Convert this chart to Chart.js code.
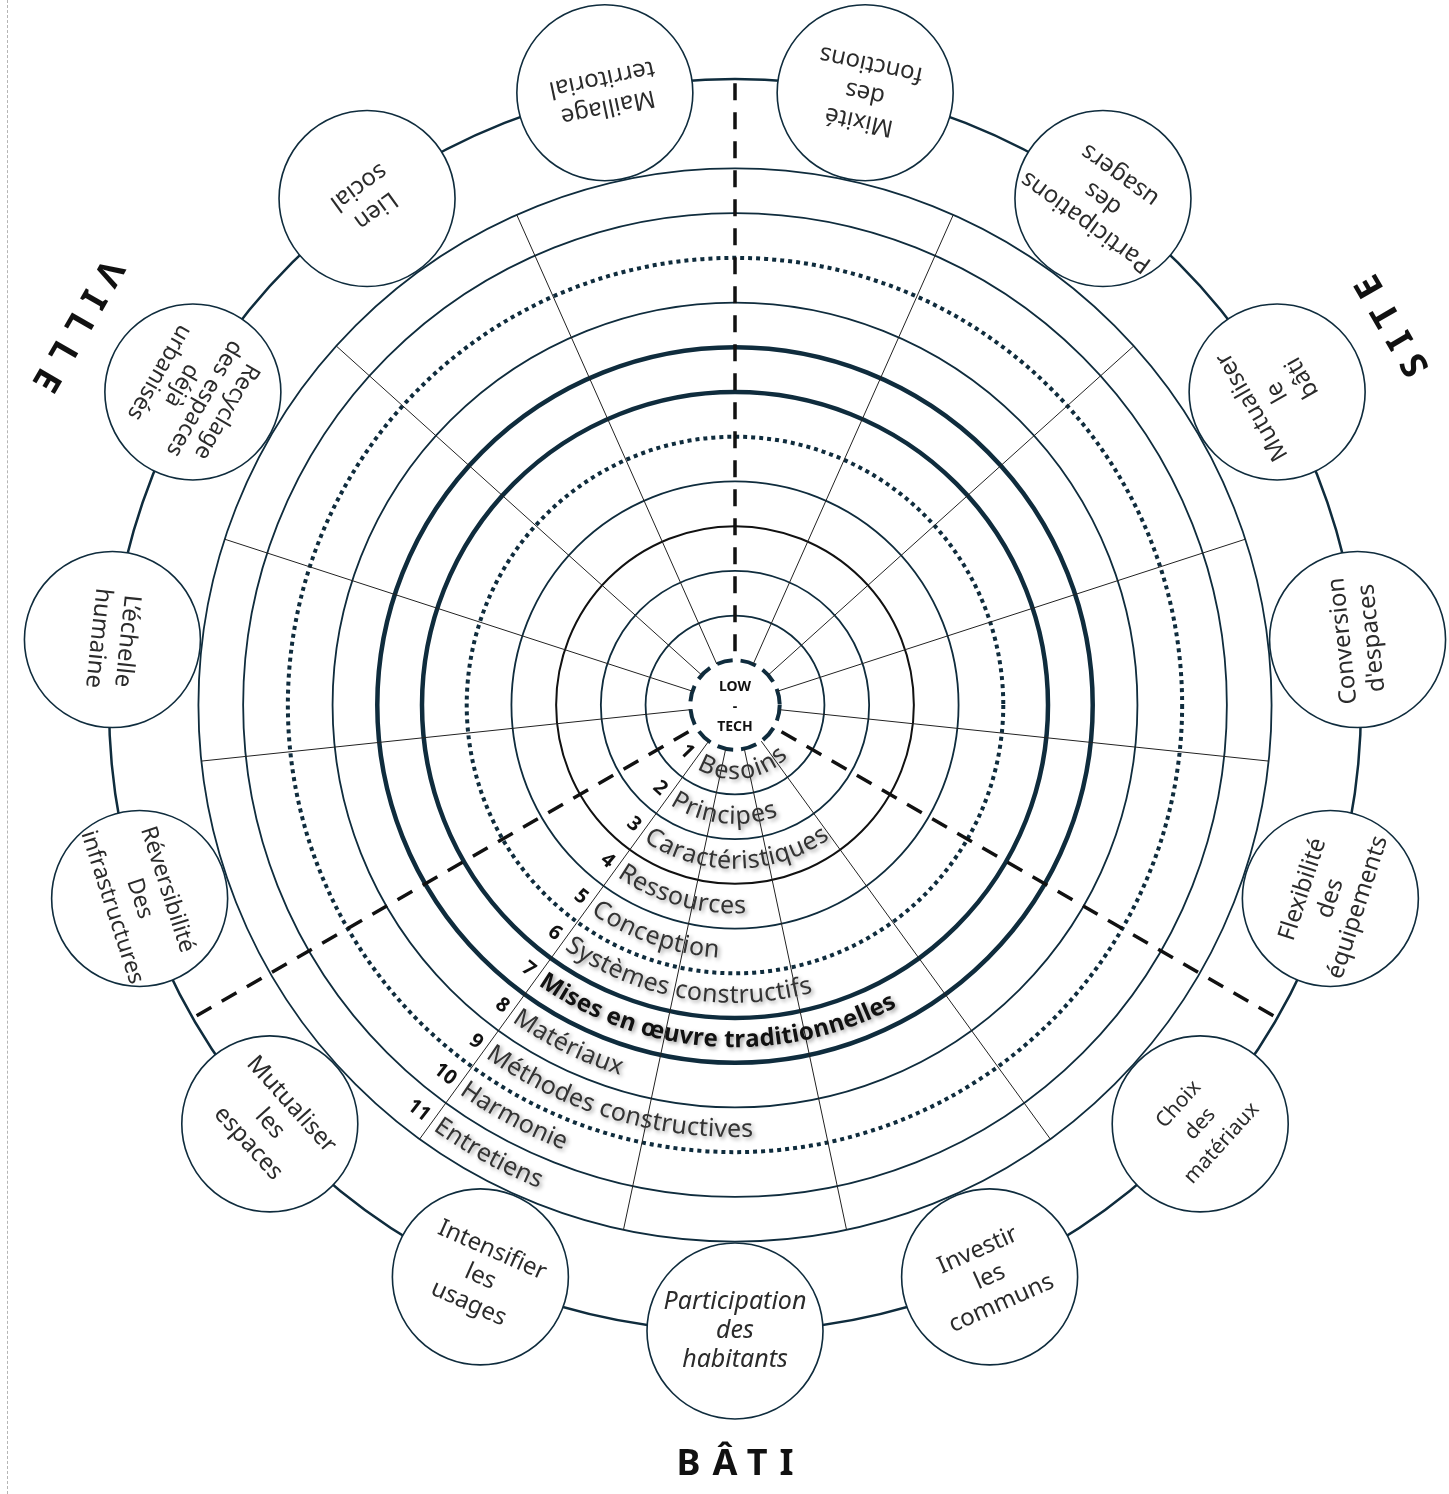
<!DOCTYPE html>
<html lang="fr">
<head>
<meta charset="utf-8">
<title>Roue low-tech</title>
<script src="https://cdn.jsdelivr.net/npm/chart.js@4.4.1/dist/chart.umd.min.js"></script>
<style>
  html, body { margin: 0; padding: 0; background: #fff; }
  #wrap { position: relative; width: 1449px; height: 1494px; overflow: hidden; }
  #wrap:before { content: ''; position: absolute; left: 7px; top: 0; bottom: 0; border-left: 1px dashed #b5b5b5; }
  canvas { position: absolute; left: 0; top: 0; }
</style>
</head>
<body>
<div id="wrap"><canvas id="roue" width="1449" height="1494"></canvas></div>
<script>
// bulles autour de la roue, sens horaire depuis le haut
var bulles = [
  ['Mixité', 'des', 'fonctions'],
  ['Participations', 'des', 'usagers'],
  ['Mutualiser', 'le', 'bâti'],
  ['Conversion', 'd\'espaces'],
  ['Flexibilité', 'des', 'équipements'],
  ['Choix', 'des', 'matériaux'],
  ['Investir', 'les', 'communs'],
  ['Participation', 'des', 'habitants'],
  ['Intensifier', 'les', 'usages'],
  ['Mutualiser', 'les', 'espaces'],
  ['Réversibilité', 'Des', 'infrastructures'],
  ['L’échelle', 'humaine'],
  ['Recyclage', 'des espaces', 'déjà', 'urbanisés'],
  ['Lien', 'social'],
  ['Maillage', 'territorial']
];

// niveaux de la roue, du centre vers l'extérieur
var numeros = ['1', '2', '3', '4', '5', '6', '7', '8', '9', '10', '11'];
var niveaux = ['Besoins', 'Principes', 'Caractéristiques', 'Ressources', 'Conception',
  'Systèmes constructifs', 'Mises en œuvre traditionnelles', 'Matériaux',
  'Méthodes constructives', 'Harmonie', 'Entretiens'];

var poles = ['SITE', 'BÂTI', 'VILLE'];
var centre = ['LOW', '-', 'TECH'];

var separateurs = [0, 5, 10];   // rayons en tirets entre les pôles
var rayonNiveaux = 9;           // rayon le long duquel partent les numéros
var niveauGras = 7;

var ANNEAU_BULLES = 14, ANNEAU_ROUE = 12, ANNEAU_POLES = 17;
var NAVY = '#0f2c3d';
var POLICE = "'Noto Sans', sans-serif";

var styleBulle = {
  5: { taille: 21 },
  7: { italique: true, taille: 25 },
  10: { taille: 23 },
  12: { taille: 23, interligne: 26 }
};

function styleAnneau(v) {
  if (v === 1) return { c: NAVY, w: 4, d: [16, 8] };
  if (v === 4) return { c: '#111', w: 2, d: [] };
  if (v === 6 || v === 10) return { c: NAVY, w: 4, d: [4, 4] };
  if (v === 7 || v === 8) return { c: NAVY, w: 4.5, d: [] };
  if (v === 13) return { c: 'rgba(0,0,0,0)', w: 0, d: [] };
  if (v === 14) return { c: NAVY, w: 2.5, d: [] };
  return { c: NAVY, w: 1.8, d: [] };
}

function point(sc, a, v) {
  var d = sc.getDistanceFromCenterForValue(v);
  return { x: sc.xCenter + Math.sin(a) * d, y: sc.yCenter - Math.cos(a) * d };
}

function texteArc(ctx, sc, txt, v, a0) {
  var r = sc.getDistanceFromCenterForValue(v);
  var a = a0;
  for (var ch of txt) {
    var w = ctx.measureText(ch).width;
    var am = a - (w / 2) / r;
    var p = point(sc, am, v);
    ctx.save();
    ctx.translate(p.x, p.y);
    ctx.rotate(am - Math.PI);
    ctx.fillText(ch, 0, 0);
    ctx.restore();
    a -= w / r;
  }
}

var roue = {
  id: 'roue',
  beforeDatasetsDraw: function(chart) {
    var sc = chart.scales.r, ctx = chart.ctx;
    var pas = 2 * Math.PI / chart.data.labels.length;
    ctx.save();
    for (var k = 0; k < chart.data.labels.length; k++) {
      var a = sc.getIndexAngle(k) - pas / 2;
      var sep = separateurs.indexOf(k) >= 0;
      var p1 = point(sc, a, sep ? 1.2 : 1);
      var p2 = point(sc, a, sep ? ANNEAU_BULLES : ANNEAU_ROUE);
      ctx.beginPath();
      ctx.moveTo(p1.x, p1.y);
      ctx.lineTo(p2.x, p2.y);
      ctx.strokeStyle = sep ? '#111' : '#222';
      ctx.lineWidth = sep ? 3.5 : 1;
      ctx.setLineDash(sep ? [17, 12] : []);
      ctx.stroke();
    }
    ctx.restore();
  },
  afterDatasetsDraw: function(chart) {
    var sc = chart.scales.r, ctx = chart.ctx;
    var pas = 2 * Math.PI / chart.data.labels.length;
    var meta = chart.getDatasetMeta(0);
    ctx.save();
    ctx.textAlign = 'center';
    ctx.textBaseline = 'middle';

    // texte des bulles
    meta.data.forEach(function(pt, i) {
      var st = styleBulle[i] || {};
      var taille = st.taille || 24, lh = st.interligne || 29;
      var lignes = bulles[i];
      ctx.save();
      ctx.translate(pt.x, pt.y);
      ctx.rotate(sc.getIndexAngle(i) - Math.PI);
      ctx.fillStyle = '#2b2b2b';
      ctx.font = (st.italique ? 'italic ' : '') + taille + 'px ' + POLICE;
      lignes.forEach(function(l, j) {
        ctx.fillText(l, 0, (j - (lignes.length - 1) / 2) * lh);
      });
      ctx.restore();
    });

    // niveaux et numéros
    var aDep = sc.getIndexAngle(rayonNiveaux) - pas / 2;
    niveaux.forEach(function(txt, k) {
      var v = k + 1.5;
      var r = sc.getDistanceFromCenterForValue(v);
      ctx.save();
      ctx.font = 'bold 20px ' + POLICE;
      ctx.fillStyle = '#111';
      var wn = ctx.measureText(numeros[k]).width;
      var an = aDep + (6 + wn / 2) / r;
      var pn = point(sc, an, v);
      ctx.translate(pn.x, pn.y);
      ctx.rotate(an - Math.PI);
      ctx.fillText(numeros[k], 0, 0);
      ctx.restore();

      ctx.save();
      ctx.shadowColor = 'rgba(0,0,0,0.4)';
      ctx.shadowBlur = 4;
      ctx.shadowOffsetX = 2;
      ctx.shadowOffsetY = 2;
      var gras = (k + 1) === niveauGras;
      ctx.font = (gras ? 'bold 24px ' : '25px ') + POLICE;
      ctx.fillStyle = gras ? '#111' : '#333';
      texteArc(ctx, sc, txt, v, aDep - 5 / r);
      ctx.restore();
    });

    // centre
    ctx.fillStyle = '#111';
    ctx.font = 'bold 14px ' + POLICE;
    [-18, 2, 22].forEach(function(dy, j) {
      ctx.fillText(centre[j], sc.xCenter, sc.yCenter + dy);
    });

    // pôles, au milieu de chaque secteur
    ctx.font = 'bold 36px ' + POLICE;
    ctx.letterSpacing = '12px';
    poles.forEach(function(nom, j) {
      var a0 = sc.getIndexAngle(separateurs[j]) - pas / 2;
      var a1 = sc.getIndexAngle(separateurs[(j + 1) % separateurs.length]) - pas / 2;
      if (a1 <= a0) a1 += 2 * Math.PI;
      var a = (a0 + a1) / 2;
      var p = point(sc, a, ANNEAU_POLES);
      ctx.save();
      ctx.translate(p.x, p.y);
      ctx.rotate(a - Math.PI);
      ctx.fillText(nom, 6, 0);
      ctx.restore();
    });
    ctx.restore();
  }
};

new Chart(document.getElementById('roue'), {
  type: 'radar',
  data: {
    labels: bulles.map(function(b) { return b.join(' '); }),
    datasets: [{
      data: bulles.map(function() { return ANNEAU_BULLES; }),
      borderWidth: 0,
      backgroundColor: 'rgba(0,0,0,0)',
      fill: false,
      pointRadius: 88,
      pointHoverRadius: 88,
      pointBackgroundColor: '#fff',
      pointBorderColor: NAVY,
      pointBorderWidth: 1.6,
      clip: false
    }]
  },
  options: {
    responsive: false,
    animation: false,
    events: [],
    layout: { padding: { left: 109, right: 88, top: 79, bottom: 163 } },
    plugins: { legend: { display: false }, tooltip: { enabled: false } },
    scales: {
      r: {
        min: 0,
        max: 14,
        startAngle: 12,
        ticks: { display: false, stepSize: 1 },
        pointLabels: { display: false },
        angleLines: { display: false },
        grid: {
          circular: true,
          color: function(c) { return styleAnneau(c.tick.value).c; },
          lineWidth: function(c) { return styleAnneau(c.tick.value).w; }
        },
        border: {
          dash: function(c) { return styleAnneau(c.tick.value).d; }
        }
      }
    }
  },
  plugins: [roue]
});
</script>
</body>
</html>
